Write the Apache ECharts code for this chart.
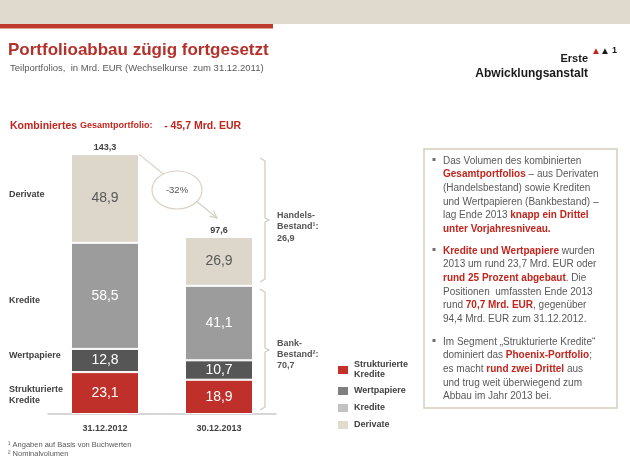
<!DOCTYPE html>
<html><head><meta charset="utf-8">
<script src="https://cdn.jsdelivr.net/npm/echarts@6/dist/echarts.min.js"></script>
<style>html,body{margin:0;padding:0;background:#fff}#c{width:630px;height:471px}</style>
</head><body><div id="c"></div>
<script>
const categories = ['31.12.2012', '30.12.2013'];
const strukturierte = [23.1, 18.9];
const wertpapiere = [12.8, 10.7];
const kredite = [58.5, 41.1];
const derivate = [48.9, 26.9];
const totals = [143.3, 97.6];
const seriesNames = ['Strukturierte Kredite', 'Wertpapiere', 'Kredite', 'Derivate'];
const barColors = ['#c0302a', '#565656', '#9c9c9d', '#ddd6ca'];
const legendColors = ['#c6302a', '#7f7f7f', '#c2c2c2', '#e2dbd0'];
const changeLabel = '-32%';

const FF = 'Liberation Sans, Arial, sans-serif';
const RED = '#c0261e';
const GRAY = '#595959';
const fmt = v => v.toFixed(1).replace('.', ',');

const chart = echarts.init(document.getElementById('c'), null, {renderer: 'canvas'});

const valueLabel = (color) => ({
  show: true, position: 'inside', color: color, fontFamily: FF, fontSize: 14,
  formatter: p => fmt(p.value)
});

const seriesData = [strukturierte, wertpapiere, kredite, derivate];
const series = seriesData.map((d, i) => ({
  name: seriesNames[i], type: 'bar', stack: 'total', barWidth: 68,
  data: d,
  itemStyle: {color: barColors[i], borderColor: '#fff', borderWidth: 1},
  label: valueLabel(i === 3 ? '#595959' : '#ffffff'),
  emphasis: {disabled: true}
}));
series.push({
  name: 'Gesamt', type: 'bar', barWidth: 68, barGap: '-100%', data: totals, silent: true,
  itemStyle: {color: 'rgba(0,0,0,0)'},
  label: {show: true, position: 'top', distance: 2, color: '#404040', fontFamily: FF,
    fontSize: 9, fontWeight: 'bold', formatter: p => fmt(p.value)},
  z: 1
});

chart.setOption({
  animation: false,
  grid: {left: 48, right: 354, top: 142, bottom: 57},
  xAxis: {
    type: 'category', data: categories,
    axisLine: {lineStyle: {color: '#c9c9c9', width: 1.5}},
    axisTick: {show: false},
    axisLabel: {margin: 10, color: '#404040', fontFamily: FF, fontSize: 9, fontWeight: 'bold'}
  },
  yAxis: {type: 'value', min: 0, max: 150, show: false, splitLine: {show: false}},
  legend: {
    orient: 'vertical', left: 331, top: 355, icon: 'rect', itemWidth: 12, itemHeight: 10,
    itemGap: 5, selectedMode: false,
    data: seriesNames.map((n, i) => ({name: n, itemStyle: {color: legendColors[i]}})),
    formatter: n => n === 'Strukturierte Kredite' ? 'Strukturierte\nKredite' : n,
    textStyle: {color: '#404040', fontFamily: FF, fontSize: 9, fontWeight: 'bold', lineHeight: 10}
  },
  series: series
});

// ---- annotations ----
const p1 = chart.convertToPixel({gridIndex: 0}, [0, totals[0]]);
const p2 = chart.convertToPixel({gridIndex: 0}, [1, totals[1]]);
const sx = p1[0] + 34, sy = p1[1];
const ex = p2[0] - 2, ey = p2[1] - 19;
const ang = Math.atan2(ey - sy, ex - sx);
const ah = 8;
const a1 = [ex - ah * Math.cos(ang - 0.45), ey - ah * Math.sin(ang - 0.45)];
const a2 = [ex - ah * Math.cos(ang + 0.45), ey - ah * Math.sin(ang + 0.45)];
const ecx = 177, ecy = 190;

const txt = (x, y, text, opt) => Object.assign({
  type: 'text', x: x, y: y, silent: true,
  style: Object.assign({text: text, fill: '#404040', font: 'bold 9px ' + FF,
    textAlign: 'left', textVerticalAlign: 'middle'}, opt || {})
});

const rich = {
  n: {fontFamily: FF, fontSize: 10, fill: GRAY},
  r: {fontFamily: FF, fontSize: 10, fill: RED, fontWeight: 'bold'}
};
const para = [
  [[['n','Das Volumen des kombinierten']],
   [['r','Gesamtportfolios'],['n',' – aus Derivaten']],
   [['n','(Handelsbestand) sowie Krediten']],
   [['n','und Wertpapieren (Bankbestand) –']],
   [['n','lag Ende 2013 '],['r','knapp ein Drittel']],
   [['r','unter Vorjahresniveau.']]],
  [[['r','Kredite und Wertpapiere'],['n',' wurden']],
   [['n','2013 um rund 23,7 Mrd. EUR oder']],
   [['r','rund 25 Prozent abgebaut'],['n','. Die']],
   [['n','Positionen  umfassten Ende 2013']],
   [['n','rund '],['r','70,7 Mrd. EUR'],['n',', gegenüber']],
   [['n','94,4 Mrd. EUR zum 31.12.2012.']]],
  [[['n','Im Segment „Strukturierte Kredite“']],
   [['n','dominiert das '],['r','Phoenix-Portfolio'],['n',';']],
   [['n','es macht '],['r','rund zwei Drittel'],['n',' aus']],
   [['n','und trug weit überwiegend zum']],
   [['n','Abbau im Jahr 2013 bei.']]]
];
const paraTop = [161, 251, 342];
const lh = 13.6;
const boxEls = [];
para.forEach((lines, pi) => {
  boxEls.push({type: 'rect', silent: true, shape: {x: 432.5, y: paraTop[pi] - 3, width: 3, height: 3}, style: {fill: '#707070'}});
  lines.forEach((segs, li) => {
    boxEls.push({type: 'text', x: 443, y: paraTop[pi] + li * lh, silent: true,
      style: {text: segs.map(s => '{' + s[0] + '|' + s[1] + '}').join(''), rich: rich,
        fill: GRAY, font: '10px ' + FF,
        textAlign: 'left', textVerticalAlign: 'middle'}});
  });
});

const bracket = (x, y1, y2, ym) => ({
  type: 'polyline', silent: true,
  shape: {points: [[x - 5, y1], [x, y1 + 3], [x, ym - 2], [x + 4, ym], [x, ym + 2], [x, y2 - 3], [x - 5, y2]]},
  style: {stroke: '#cfc8bc', lineWidth: 1.2, fill: null}
});

chart.setOption({
  graphic: [
    {type: 'rect', shape: {x: 0, y: 0, width: 630, height: 24}, style: {fill: '#e0d9cd'}, silent: true},
    {type: 'rect', shape: {x: 0, y: 24, width: 273, height: 4.5}, style: {fill: '#be3a2d'}, silent: true},
    txt(8, 50, 'Portfolioabbau zügig fortgesetzt', {fill: '#b3312a', font: 'bold 17px ' + FF}),
    txt(10, 68, 'Teilportfolios,  in Mrd. EUR (Wechselkurse  zum 31.12.2011)', {fill: GRAY, font: '9.5px ' + FF}),
    txt(588, 59, 'Erste', {fill: '#1a1a1a', font: 'bold 11px ' + FF, textAlign: 'right'}),
    txt(588, 74, 'Abwicklungsanstalt', {fill: '#1a1a1a', font: 'bold 12px ' + FF, textAlign: 'right'}),
    txt(591, 51, '▲', {fill: '#c0261e', font: '10px ' + FF}),
    txt(600, 51, '▲', {fill: '#1a1a1a', font: '10px ' + FF}),
    txt(612, 51, '1', {fill: '#1a1a1a', font: 'bold 9px ' + FF}),
    {type: 'text', x: 10, y: 126, silent: true, style: {
      text: '{a|Kombiniertes }{b|Gesamtportfolio:}{a|    - 45,7 Mrd. EUR}',
      rich: {a: {fontFamily: FF, fontSize: 10.5, fontWeight: 'bold', fill: RED},
             b: {fontFamily: FF, fontSize: 9, fontWeight: 'bold', fill: RED}},
      fill: RED, textAlign: 'left', textVerticalAlign: 'middle'}},
    txt(9, 195, 'Derivate'),
    txt(9, 301, 'Kredite'),
    txt(9, 356, 'Wertpapiere'),
    txt(9, 395, 'Strukturierte\nKredite', {lineHeight: 11}),
    {type: 'line', silent: true, shape: {x1: sx, y1: sy, x2: ex, y2: ey}, style: {stroke: '#d6cfc3', lineWidth: 1.2}},
    {type: 'polyline', silent: true, shape: {points: [a1, [ex, ey], a2]}, style: {stroke: '#d6cfc3', lineWidth: 1.2, fill: null}},
    {type: 'ellipse', silent: true, shape: {cx: ecx, cy: ecy, rx: 25, ry: 19}, style: {fill: '#fff', stroke: '#d8d1c5', lineWidth: 1.2}},
    txt(ecx, ecy, changeLabel, {fill: '#555', font: '9.5px ' + FF, textAlign: 'center'}),
    bracket(265, 158, 282, 220),
    bracket(265, 289, 410, 350),
    txt(277, 227, 'Handels-\nBestand¹:\n26,9', {lineHeight: 11.5, fill: '#555'}),
    txt(277, 355, 'Bank-\nBestand²:\n70,7', {lineHeight: 11, fill: '#555'}),
    {type: 'rect', silent: true, shape: {x: 424, y: 149, width: 193, height: 259}, style: {fill: '#fff', stroke: '#d5cdbf', lineWidth: 1.5}},
    ...boxEls,
    txt(8, 445, '¹ Angaben auf Basis von Buchwerten', {fill: GRAY, font: '7.5px ' + FF}),
    txt(8, 454, '² Nominalvolumen', {fill: GRAY, font: '7.5px ' + FF})
  ]
});
</script></body></html>
